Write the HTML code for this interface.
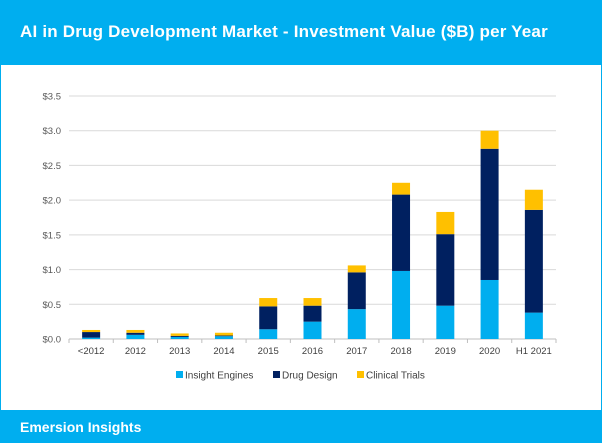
<!DOCTYPE html>
<html><head><meta charset="utf-8"><style>
body{margin:0;width:602px;height:445px;overflow:hidden;background:#fff;font-family:"Liberation Sans",Arial,sans-serif}
#frame{position:absolute;left:0;top:0;width:600px;height:443px;border-left:1px solid #00AEEF;border-right:1px solid #00AEEF;}
#hdr{position:absolute;left:0;top:0;width:602px;height:65px;background:#00AEEF;}
#hdr span{position:absolute;left:20px;top:22px;color:#fff;font-weight:bold;font-size:17px;letter-spacing:0.2px}
#ftr{position:absolute;left:0;top:410px;width:602px;height:33px;background:#00AEEF;}
#ftr span{position:absolute;left:20px;top:9px;color:#fff;font-weight:bold;font-size:14px}
svg{position:absolute;left:0;top:0}
</style></head><body>
<div id="frame"></div>
<div id="hdr"><span>AI in Drug Development Market - Investment Value ($B) per Year</span></div>
<div id="ftr"><span>Emersion Insights</span></div>
<svg id="chart" width="602" height="445"></svg>
<script>
const categories=["<2012","2012","2013","2014","2015","2016","2017","2018","2019","2020","H1 2021"];
const insightEngines=[0.02,0.06,0.03,0.04,0.14,0.25,0.43,0.98,0.48,0.85,0.38];
const drugDesign=[0.08,0.03,0.015,0.01,0.33,0.23,0.53,1.10,1.03,1.89,1.48];
const clinicalTrials=[0.03,0.04,0.035,0.04,0.12,0.11,0.10,0.17,0.32,0.26,0.29];
const yTicks=[0,0.5,1,1.5,2,2.5,3,3.5];
const yTickLabels=["$0.0","$0.5","$1.0","$1.5","$2.0","$2.5","$3.0","$3.5"];
const seriesNames=["Insight Engines","Drug Design","Clinical Trials"];
const colors=["#00AEEF","#002060","#FFC000"];
const NS="http://www.w3.org/2000/svg";
const svg=document.getElementById('chart');
const X0=69,X1=556,Y0=339,Y1=96,YMAX=3.5;
const band=(X1-X0)/categories.length,barW=18;
const y=v=>Y0-v/YMAX*(Y0-Y1);
const xc=i=>X0+band*(i+0.5);
function mk(t,a){const e=document.createElementNS(NS,t);for(const k in a)e.setAttribute(k,a[k]);svg.appendChild(e);return e;}
yTicks.forEach((t,i)=>{
 if(t>0){const g=mk('line',{x1:X0,x2:X1,y1:y(t),y2:y(t),stroke:'#d9d9d9','stroke-width':1});
 
 }
 const l=mk('text',{x:61,y:y(t)+3.5,'text-anchor':'end','font-size':'9.5',fill:'#595959'});
 l.textContent=yTickLabels[i];
 
 
});
const ax=mk('line',{x1:X0,x2:X1,y1:Y0,y2:Y0,stroke:'#bfbfbf','stroke-width':1});


for(let i=0;i<=categories.length;i++){const tk=mk('line',{x1:X0+band*i,x2:X0+band*i,y1:Y0,y2:Y0+4,stroke:'#bfbfbf'});

}
const series=[insightEngines,drugDesign,clinicalTrials];
categories.forEach((c,i)=>{
 let base=0;
 series.forEach((s,k)=>{
  const r=mk('rect',{x:xc(i)-barW/2,y:y(base+s[i]),width:barW,height:y(base)-y(base+s[i]),fill:colors[k]});
  
  
  base+=s[i];
 });
 const t=mk('text',{x:xc(i),y:354,'text-anchor':'middle','font-size':'9.5',fill:'#404040'});
 t.textContent=c;
 
 
});
const legX=[176,273,357];
seriesNames.forEach((n,k)=>{
 const r=mk('rect',{x:legX[k],y:371,width:7,height:7,fill:colors[k]});
 
 
 const t=mk('text',{x:legX[k]+9,y:378.5,'font-size':'10',fill:'#404040'});
 t.textContent=n;
 
 
});
</script>
</body></html>
